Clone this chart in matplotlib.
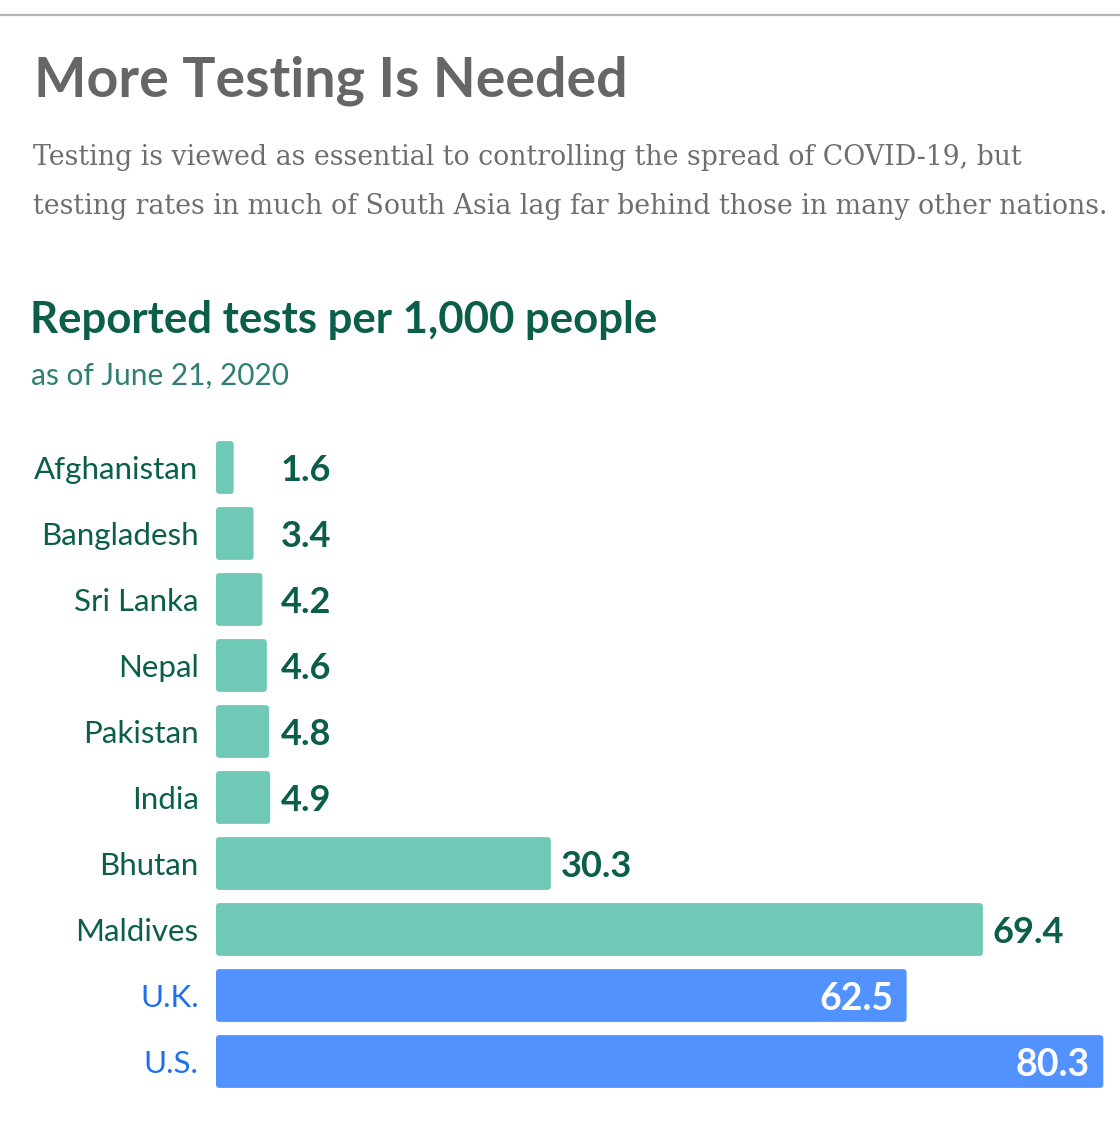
import matplotlib.pyplot as plt
from matplotlib.patches import FancyBboxPatch
from matplotlib.lines import Line2D

# data
countries = ["Afghanistan", "Bangladesh", "Sri Lanka", "Nepal", "Pakistan",
             "India", "Bhutan", "Maldives", "U.K.", "U.S."]
tests = [1.6, 3.4, 4.2, 4.6, 4.8, 4.9, 30.3, 69.4, 62.5, 80.3]
group = ["asia"] * 8 + ["other"] * 2

teal = "#70c8b6"
blue = "#5192ff"
dark_green = "#0b5e49"
label_blue = "#1f6fee"

plt.rcParams['font.family'] = ['Lato', 'DejaVu Sans']

W, H = 1120, 1136
fig = plt.figure(figsize=(W / 100, H / 100), dpi=100)

# 頂端灰線
fig.add_artist(Line2D([0, 1], [1 - 15 / H, 1 - 15 / H], color="#b3b3b3", lw=1.6))

# 標題
fig.text(34 / W, 1 - 97 / H, "More Testing Is Needed", fontsize=40, fontweight="bold",
         color="#666666", va="baseline", ha="left")
fig.text(33 / W, 1 - 165 / H,
         "Testing is viewed as essential to controlling the spread of COVID-19, but",
         fontsize=19.3, color="#6e6e6e", family="DejaVu Serif", va="baseline")
fig.text(33 / W, 1 - 214 / H,
         "testing rates in much of South Asia lag far behind those in many other nations.",
         fontsize=19.3, color="#6e6e6e", family="DejaVu Serif", va="baseline")

fig.text(30 / W, 1 - 333 / H, "Reported tests per 1,000 people", fontsize=31.5,
         fontweight="bold", color=dark_green, va="baseline")
fig.text(31 / W, 1 - 385 / H, "as of June 21, 2020", fontsize=21.5,
         color="#2f7f74", va="baseline")

# 長條圖區域
ax_left, ax_right = 216, 1120
ax_top, ax_bottom = 434.5, 1094.5
ax = fig.add_axes([ax_left / W, 1 - ax_bottom / H, (ax_right - ax_left) / W,
                   (ax_bottom - ax_top) / H])
px_per_unit = 11.05
ax.set_xlim(0, (ax_right - ax_left) / px_per_unit)
ax.set_ylim(len(countries) - 0.5, -0.5)

colors = [teal if g == "asia" else blue for g in group]
bars = ax.barh(range(len(countries)), tests, height=0.8, color=colors)

# 圓角
x_per_px = 1 / px_per_unit
y_per_px = 1 / 66.0
for b in bars:
    x0, y0 = b.get_x(), b.get_y()
    w, h = b.get_width(), b.get_height()
    r = 3.5 * x_per_px
    p = FancyBboxPatch((x0, y0), w, h,
                       boxstyle=f"round,pad=0,rounding_size={r}",
                       mutation_aspect=y_per_px / x_per_px,
                       facecolor=b.get_facecolor(), edgecolor="none")
    ax.add_patch(p)
    b.set_visible(False)

# 數值標籤
for i, v in enumerate(tests):
    if group[i] == "other":
        ax.text(v - 1.2, i, f"{v}", color="white", fontsize=27, fontweight="bold",
                ha="right", va="center_baseline")
    elif v < 10:
        ax.text(10.45, i, f"{v}", color=dark_green, fontsize=26, fontweight="bold",
                ha="right", va="center_baseline")
    else:
        ax.text(v + 0.9, i, f"{v}", color=dark_green, fontsize=26, fontweight="bold",
                ha="left", va="center_baseline")

ax.set_yticks(range(len(countries)))
ax.set_yticklabels(countries, fontsize=22.5)
for lbl, g in zip(ax.get_yticklabels(), group):
    lbl.set_color(dark_green if g == "asia" else label_blue)
ax.tick_params(axis="y", length=0, pad=12.5)
ax.set_xticks([])
for s in ax.spines.values():
    s.set_visible(False)

fig.savefig("out.png", dpi=100)
